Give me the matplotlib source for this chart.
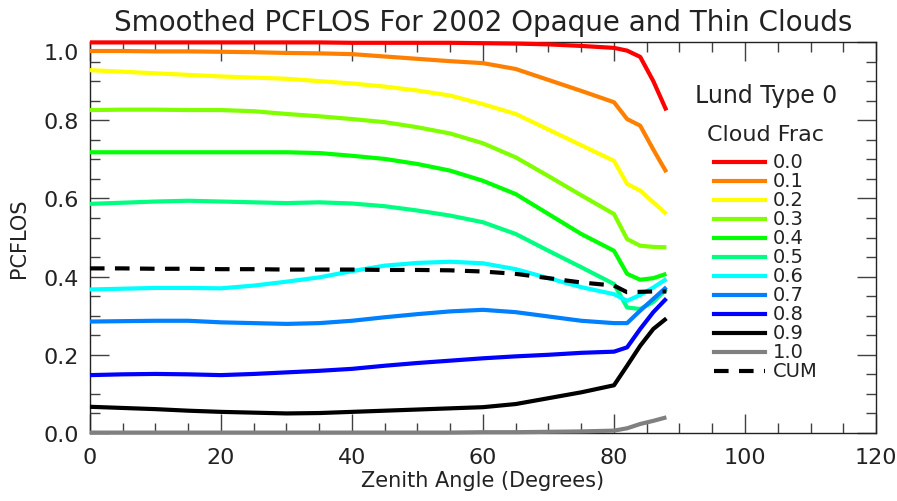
import numpy as np
import matplotlib
matplotlib.use('Agg')
import matplotlib.pyplot as plt
import matplotlib.transforms as mtransforms
from matplotlib.ticker import MultipleLocator

# Zenith angle grid (degrees)
zenith = [0, 5, 10, 15, 20, 25, 30, 35, 40, 45, 50, 55, 60, 65, 70, 75, 80, 82, 84, 86, 88]

# Smoothed PCFLOS per cloud fraction
cf00 = [0.999, 0.999, 0.999, 0.999, 0.999, 0.999, 0.999, 0.999, 0.998, 0.998, 0.998, 0.998, 0.997, 0.996, 0.994, 0.990, 0.985, 0.978, 0.962, 0.900, 0.825]
cf01 = [0.977, 0.977, 0.976, 0.976, 0.975, 0.974, 0.972, 0.971, 0.969, 0.963, 0.957, 0.951, 0.946, 0.931, 0.903, 0.875, 0.846, 0.803, 0.786, 0.725, 0.667]
cf02 = [0.928, 0.924, 0.920, 0.916, 0.912, 0.909, 0.906, 0.900, 0.894, 0.886, 0.876, 0.863, 0.841, 0.816, 0.776, 0.736, 0.696, 0.637, 0.620, 0.590, 0.560]
cf03 = [0.826, 0.827, 0.827, 0.826, 0.826, 0.823, 0.816, 0.810, 0.803, 0.795, 0.782, 0.766, 0.741, 0.705, 0.657, 0.608, 0.560, 0.496, 0.479, 0.476, 0.475]
cf04 = [0.718, 0.718, 0.718, 0.718, 0.718, 0.718, 0.718, 0.716, 0.709, 0.701, 0.688, 0.671, 0.645, 0.611, 0.560, 0.509, 0.466, 0.407, 0.392, 0.396, 0.407]
cf05 = [0.586, 0.589, 0.592, 0.594, 0.592, 0.590, 0.588, 0.590, 0.587, 0.580, 0.569, 0.556, 0.539, 0.509, 0.466, 0.424, 0.381, 0.321, 0.317, 0.335, 0.368]
cf06 = [0.367, 0.369, 0.371, 0.371, 0.370, 0.377, 0.387, 0.398, 0.414, 0.428, 0.435, 0.438, 0.434, 0.419, 0.396, 0.373, 0.355, 0.338, 0.353, 0.372, 0.394]
cf07 = [0.285, 0.286, 0.287, 0.287, 0.283, 0.281, 0.279, 0.281, 0.287, 0.296, 0.304, 0.311, 0.315, 0.309, 0.298, 0.287, 0.281, 0.281, 0.313, 0.343, 0.373]
cf08 = [0.148, 0.150, 0.151, 0.150, 0.148, 0.151, 0.155, 0.159, 0.164, 0.172, 0.179, 0.185, 0.191, 0.196, 0.200, 0.205, 0.208, 0.219, 0.266, 0.309, 0.344]
cf09 = [0.067, 0.064, 0.061, 0.057, 0.054, 0.052, 0.050, 0.051, 0.054, 0.057, 0.060, 0.063, 0.066, 0.074, 0.089, 0.104, 0.122, 0.172, 0.223, 0.266, 0.293]
cf10 = [0.001, 0.001, 0.001, 0.001, 0.001, 0.001, 0.001, 0.001, 0.001, 0.001, 0.001, 0.001, 0.002, 0.002, 0.003, 0.004, 0.006, 0.012, 0.023, 0.031, 0.040]
cum = [0.421, 0.421, 0.420, 0.420, 0.419, 0.419, 0.418, 0.418, 0.418, 0.417, 0.417, 0.416, 0.413, 0.407, 0.396, 0.385, 0.377, 0.360, 0.361, 0.362, 0.362]

series = [cf00, cf01, cf02, cf03, cf04, cf05, cf06, cf07, cf08, cf09, cf10]
labels = ['0.0', '0.1', '0.2', '0.3', '0.4', '0.5', '0.6', '0.7', '0.8', '0.9', '1.0']
colors = ['#ff0000', '#ff8000', '#ffff00', '#80ff00', '#00ff00', '#00ff80',
          '#00ffff', '#0080ff', '#0000ff', '#000000', '#808080']

fig = plt.figure(figsize=(8.97, 5.02), dpi=100)
ax = fig.add_axes([0.1003, 0.1355, 0.8763, 0.7788])

for vals, col in zip(series, colors):
    ax.plot(zenith, vals, color=col, lw=3, solid_capstyle='butt', clip_on=False, zorder=3)
ax.plot(zenith, cum, color='black', lw=3, ls=(0, (3.5, 2.5)), clip_on=False, zorder=3)

ax.set_xlim(0, 120)
ax.set_ylim(0, 1.0)
ax.xaxis.set_minor_locator(MultipleLocator(5))
ax.yaxis.set_minor_locator(MultipleLocator(0.05))
ax.set_xticks([0, 20, 40, 60, 80, 100, 120])
ax.set_xticklabels(['0', '20', '40', '60', '80', '100', '120'])
ax.set_yticks([0, 0.2, 0.4, 0.6, 0.8, 1.0])
ax.set_yticklabels(['0.0', '0.2', '0.4', '0.6', '0.8', '1.0'])
ax.tick_params(which='both', direction='in', top=True, right=True,
               labelsize=16, colors='#404040', labelcolor='#222222', pad=8)
ax.tick_params(axis='x', pad=10)
ax.tick_params(which='major', length=14, width=1)
ax.tick_params(which='minor', length=7, width=1)
for sp in ax.spines.values():
    sp.set_color('#222222')
    sp.set_linewidth(1)

# push the top y label down so it sits inside the frame
top_lab = ax.get_yticklabels()[-1]
top_lab.set_transform(top_lab.get_transform() +
                      mtransforms.ScaledTranslation(0, -6.5 / 72, fig.dpi_scale_trans))

ax.set_title('Smoothed PCFLOS For 2002 Opaque and Thin Clouds', fontsize=20,
             color='#222222', pad=9)
ax.set_xlabel('Zenith Angle (Degrees)', fontsize=15, color='#222222', labelpad=2)
ax.set_ylabel('PCFLOS', fontsize=15, color='#222222', labelpad=10)

# Hand-drawn key on the right side of the axes
ax.text(0.86, 0.865, 'Lund Type 0', transform=ax.transAxes, fontsize=17,
        ha='center', va='center', color='#222222')
ax.text(0.86, 0.765, 'Cloud Frac', transform=ax.transAxes, fontsize=16,
        ha='center', va='center', color='#222222')
key_y = 0.694
step = 0.0486
for i, (lab, col) in enumerate(zip(labels + ['CUM'], colors + ['black'])):
    y = key_y - i * step
    ls = '-' if lab != 'CUM' else (0, (3.5, 2.5))
    ax.plot([0.7935, 0.8585], [y, y], transform=ax.transAxes, color=col, lw=3, ls=ls)
    ax.text(0.8685, y, lab, transform=ax.transAxes, fontsize=14, ha='left',
            va='center', color='#222222')

fig.savefig('out.png', dpi=100)
